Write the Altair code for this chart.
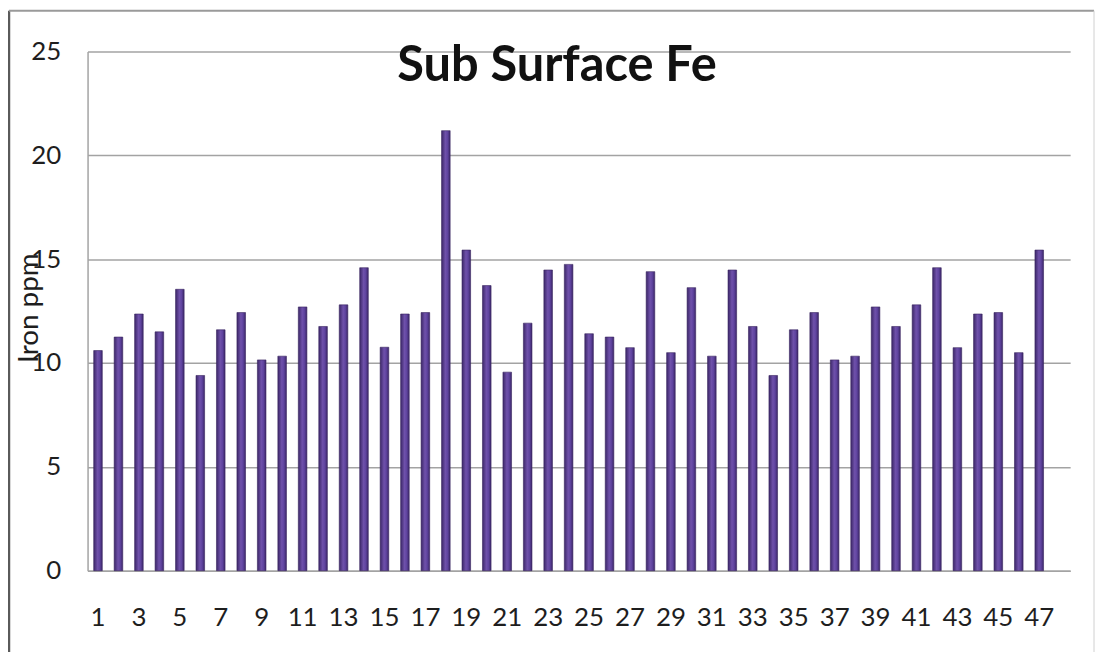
import altair as alt
import pandas as pd

# ---- data ----
samples = list(range(1, 48))
iron_ppm = [10.6, 11.25, 12.36, 11.5, 13.55, 9.4, 11.6, 12.43, 10.15, 10.33,
            12.7, 11.76, 12.8, 14.59, 10.76, 12.36, 12.43, 21.19, 15.44, 13.73,
            9.56, 11.92, 14.48, 14.75, 11.41, 11.25, 10.74, 14.4, 10.5, 13.63,
            10.33, 14.48, 11.76, 9.4, 11.6, 12.43, 10.15, 10.33, 12.7, 11.76,
            12.8, 14.59, 10.74, 12.36, 12.43, 10.5, 15.44]
x_domain = list(range(1, 49))          # Excel axis has one empty slot at the end
x_tick_labels = list(range(1, 48, 2))
y_ticks = [0, 5, 10, 15, 20, 25]
title_text = "Sub Surface Fe"
y_title = "Iron ppm"

df = pd.DataFrame({"sample": samples, "iron": iron_ppm})

FONT = "Lato"
GRID = "#a3a3a3"

bar_fill = alt.Gradient(
    gradient="linear",
    stops=[alt.GradientStop(color="#3c2768", offset=0),
           alt.GradientStop(color="#6f51aa", offset=0.45),
           alt.GradientStop(color="#6044a0", offset=0.7),
           alt.GradientStop(color="#3c2768", offset=1)],
    x1=0, x2=1, y1=0, y2=0,
)

bars = alt.Chart(df).mark_bar(color=bar_fill, stroke="#38235e", strokeWidth=0.6).encode(
    x=alt.X(
        "sample:O",
        scale=alt.Scale(domain=x_domain, paddingInner=0.58, paddingOuter=0.3),
        axis=alt.Axis(values=x_tick_labels, labelAngle=0, title=None, ticks=False,
                      labelPadding=34, labelFont=FONT, labelFontSize=26,
                      labelColor="#1e1e1e", domainColor=GRID, domainWidth=1.5,
                      grid=False),
    ),
    y=alt.Y(
        "iron:Q",
        scale=alt.Scale(domain=[0, 25], nice=False),
        axis=alt.Axis(values=y_ticks, title=None, ticks=False, labelPadding=27,
                      labelFont=FONT, labelFontSize=26, labelColor="#1e1e1e",
                      domainColor=GRID, domainWidth=1.5,
                      grid=True, gridColor=GRID, gridWidth=1.5),
    ),
)

ytitle = alt.Chart(pd.DataFrame({"t": [y_title]})).mark_text(
    angle=270, font=FONT, fontSize=28, color="#1e1e1e", align="center", baseline="middle"
).encode(x=alt.value(-58), y=alt.value(258), text="t:N")

one = pd.DataFrame({"k": [0]})
frame_left = alt.Chart(one).mark_rule(color="#5a5a5a", strokeWidth=2.5).encode(
    x=alt.value(-79), y=alt.value(-41), y2=alt.value(700))
frame_top = alt.Chart(one).mark_rule(color="#9a9a9a", strokeWidth=2).encode(
    x=alt.value(-79), x2=alt.value(1012), y=alt.value(-41))
frame_right = alt.Chart(one).mark_rule(color="#d0d0d0", strokeWidth=1).encode(
    x=alt.value(1012), y=alt.value(-41), y2=alt.value(700))

chart = alt.layer(frame_left, frame_top, frame_right, bars, ytitle).properties(
    width=988,
    height=522,
    autosize=alt.AutoSizeParams(type="none"),
    padding={"left": 80, "top": 42, "right": 26, "bottom": 80},
    background="white",
    title=alt.TitleParams(title_text, font=FONT, fontSize=49, fontWeight="bold",
                          color="#111111", anchor="middle", frame="group",
                          dx=-22, dy=74, offset=-47, baseline="alphabetic"),
).configure_view(strokeWidth=0)

chart.save("out.html", embed_options={"renderer": "svg", "actions": False})
